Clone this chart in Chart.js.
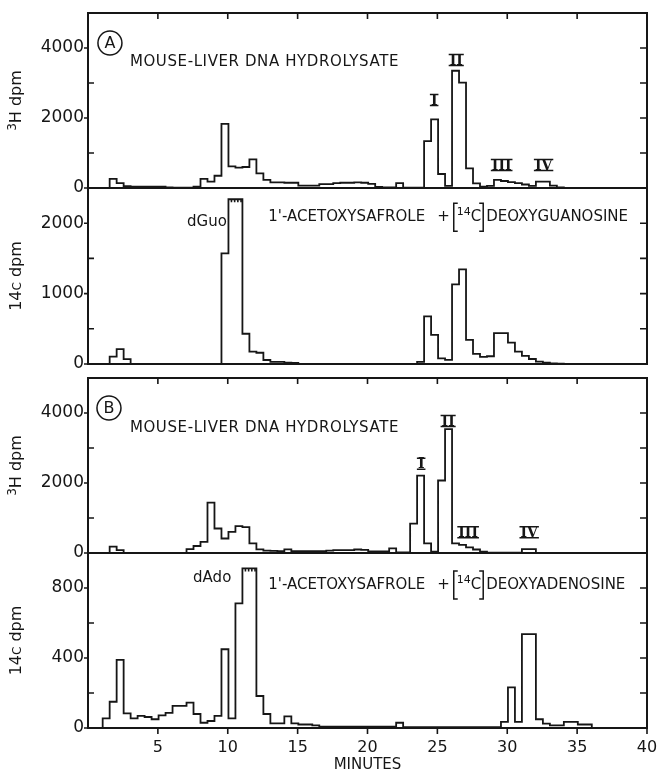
<!DOCTYPE html>
<html lang="en">
<head>
<meta charset="UTF-8">
<title>Mouse-liver DNA hydrolysate</title>
<script src="https://cdn.jsdelivr.net/npm/chart.js@4.4.0/dist/chart.umd.min.js"></script>
<style>
    body { margin: 0; background: #fff; }
    #wrap { position: relative; width: 659px; height: 774px; }
    #wrap canvas { position: absolute; left: 0; }
</style>
</head>
<body>
<div id="wrap">
    <canvas id="p1" width="659" height="195" style="top:3px"></canvas>
    <canvas id="p2" width="659" height="196" style="top:178px"></canvas>
    <canvas id="p3" width="659" height="195" style="top:368px"></canvas>
    <canvas id="p4" width="659" height="231" style="top:543px"></canvas>
</div>
<script>
// fraction start times (minutes)
const minutes = [
    0.55, 1.05, 1.55, 2.05, 2.55, 3.05, 3.55, 4.05, 4.55, 5.05,
    5.55, 6.05, 6.55, 7.05, 7.55, 8.05, 8.55, 9.05, 9.55, 10.05,
    10.55, 11.05, 11.55, 12.05, 12.55, 13.05, 13.55, 14.05, 14.55, 15.05,
    15.55, 16.05, 16.55, 17.05, 17.55, 18.05, 18.55, 19.05, 19.55, 20.05,
    20.55, 21.05, 21.55, 22.05, 22.55, 23.05, 23.55, 24.05, 24.55, 25.05,
    25.55, 26.05, 26.55, 27.05, 27.55, 28.05, 28.55, 29.05, 29.55, 30.05,
    30.55, 31.05, 31.55, 32.05, 32.55, 33.05, 33.55, 34.05, 34.55, 35.05,
    35.55, 36.05, 36.55, 37.05
];
// (A) 3H dpm, mouse-liver DNA hydrolysate
const h3A = [
    0, 0, 260, 140, 50, 40, 40, 40, 40, 40,
    20, 10, 10, 10, 40, 260, 180, 350, 1830, 620,
    580, 600, 820, 420, 230, 160, 160, 150, 150, 70,
    70, 70, 110, 110, 140, 150, 150, 160, 150, 120,
    30, 20, 20, 140, 10, 10, 10, 1340, 1960, 400,
    60, 3350, 3010, 560, 130, 40, 60, 230, 200, 170,
    140, 100, 60, 180, 180, 70, 20, 0, 0, 0,
    0, 0, 0, 0
];
// (A) 14C dpm, 1'-acetoxysafrole + [14C]deoxyguanosine
const c14A = [
    0, 0, 105, 210, 70, 0, 0, 0, 0, 0,
    0, 0, 0, 0, 0, 0, 0, 0, 1570, 2340,
    2340, 430, 176, 160, 57, 30, 30, 20, 15, 0,
    0, 0, 0, 0, 0, 0, 0, 0, 0, 0,
    0, 0, 0, 0, 0, 0, 30, 676, 414, 81,
    60, 1130, 1343, 343, 143, 100, 110, 438, 438, 305,
    176, 114, 71, 33, 20, 10, 5, 0, 0, 0,
    0, 0, 0, 0
];
// (B) 3H dpm, mouse-liver DNA hydrolysate
const h3B = [
    0, 0, 180, 85, 0, 0, 0, 0, 0, 0,
    0, 0, 0, 113, 200, 320, 1440, 700, 415, 605,
    766, 740, 275, 105, 66, 60, 50, 105, 50, 50,
    50, 50, 50, 70, 80, 80, 80, 100, 90, 45,
    45, 45, 133, 20, 20, 842, 2213, 275, 40, 2071,
    3537, 275, 230, 160, 100, 40, 10, 10, 10, 10,
    10, 113, 113, 0, 0, 0, 0, 0, 0, 0,
    0, 0, 0, 0
];
// (B) 14C dpm, 1'-acetoxysafrole + [14C]deoxyadenosine
const c14B = [
    0, 55, 150, 389, 84, 55, 69, 63, 50, 72,
    86, 127, 127, 145, 80, 30, 40, 69, 450, 55,
    712, 912, 912, 183, 80, 27, 27, 67, 27, 20,
    20, 15, 8, 8, 8, 8, 8, 8, 8, 8,
    8, 8, 8, 30, 5, 5, 5, 5, 5, 5,
    5, 5, 5, 5, 5, 5, 5, 5, 35, 232,
    35, 537, 537, 50, 25, 15, 15, 35, 35, 20,
    20, 0, 0, 0
];
const xLabels = [5, 10, 15, 20, 25, 30, 35, 40];
const yLabelsH3 = [0, 2000, 4000];
const yLabelsC14A = [0, 1000, 2000];
const yLabelsC14B = [0, 400, 800];

const ink = '#161616';
const fam = '"DejaVu Sans", sans-serif';

function drawBracket(ctx, bx, y, dir) {
    ctx.beginPath();
    ctx.moveTo(bx + 4 * dir, y - 14);
    ctx.lineTo(bx, y - 14);
    ctx.lineTo(bx, y + 14);
    ctx.lineTo(bx + 4 * dir, y + 14);
    ctx.stroke();
}

function drawItem(ctx, it, px, py) {
    ctx.textBaseline = 'middle';
    ctx.textAlign = 'left';
    if (it.kind === 'circle') {
        ctx.beginPath();
        ctx.arc(px, py, 12, 0, Math.PI * 2);
        ctx.stroke();
        ctx.font = '16px ' + fam;
        ctx.textAlign = 'center';
        ctx.fillText(it.t, px, py + 1);
    } else if (it.kind === 'roman') {
        ctx.font = 'bold 14px "DejaVu Serif", serif';
        ctx.textAlign = 'center';
        const w = ctx.measureText(it.t).width;
        ctx.fillText(it.t, px, py + 1);
        ctx.beginPath();
        ctx.moveTo(px - w / 2 - 1, py - 5.5); ctx.lineTo(px + w / 2 + 1, py - 5.5);
        ctx.moveTo(px - w / 2 - 1, py + 5.5); ctx.lineTo(px + w / 2 + 1, py + 5.5);
        ctx.stroke();
    } else if (it.kind === 'acet') {
        let cx = px;
        ctx.font = '15px ' + fam;
        ctx.fillText("1'-ACETOXYSAFROLE", cx, py);
        cx += ctx.measureText("1'-ACETOXYSAFROLE").width + 12;
        ctx.fillText('+', cx, py);
        cx += ctx.measureText('+').width + 4;
        drawBracket(ctx, cx, py, 1);
        cx += 3;
        ctx.font = '11px ' + fam;
        ctx.fillText('14', cx, py - 5);
        cx += ctx.measureText('14').width;
        ctx.font = '15px ' + fam;
        ctx.fillText('C', cx, py);
        cx += ctx.measureText('C').width + 2;
        drawBracket(ctx, cx, py, -1);
        cx += 3;
        ctx.fillText(it.t, cx, py);
    } else {
        ctx.font = '15px ' + fam;
        ctx.letterSpacing = (it.spacing || 0) + 'px';
        ctx.fillText(it.t, px, py);
        ctx.letterSpacing = '0px';
    }
}

const frame = {
    id: 'frame',
    afterDraw(chart, args, o) {
        const { ctx, chartArea: a, scales: { x, y } } = chart;
        ctx.save();
        ctx.strokeStyle = ink;
        ctx.fillStyle = ink;
        ctx.lineWidth = 1.6;
        ctx.beginPath();
        y.ticks.forEach(t => {
            const py = y.getPixelForValue(t.value);
            if (o.labels.includes(t.value)) {
                ctx.moveTo(a.left - 4, py); ctx.lineTo(a.left, py);
            } else if (t.value !== y.max) {
                ctx.moveTo(a.left, py); ctx.lineTo(a.left + 6, py);
            }
            if (t.value !== 0 && t.value !== y.max) {
                ctx.moveTo(a.right, py); ctx.lineTo(a.right - 7, py);
            }
        });
        xLabels.forEach(m => {
            const px = x.getPixelForValue(m);
            if (o.top && m < 40) { ctx.moveTo(px, a.top); ctx.lineTo(px, a.top + 6); }
            if (o.bottom) { ctx.moveTo(px, a.bottom); ctx.lineTo(px, a.bottom + 6); }
        });
        // off-scale notches along a flat-topped peak
        if (o.offscale) {
            const x0 = x.getPixelForValue(o.offscale.from);
            const x1 = x.getPixelForValue(o.offscale.to);
            const py = y.getPixelForValue(o.offscale.y);
            for (let px = x0 + 3; px < x1 - 1; px += 3.2) {
                ctx.moveTo(px, py); ctx.lineTo(px, py + 3);
            }
        }
        ctx.stroke();
        ctx.lineWidth = 2;
        ctx.strokeRect(a.left, a.top, a.right - a.left, a.bottom - a.top);

        // rotated y title
        ctx.save();
        ctx.translate(21, (a.top + a.bottom) / 2);
        ctx.rotate(-Math.PI / 2);
        ctx.textBaseline = 'alphabetic';
        let total = 0;
        o.title.forEach(p => { ctx.font = p.size + 'px ' + fam; total += ctx.measureText(p.t).width; });
        let cx = -total / 2;
        o.title.forEach(p => {
            ctx.font = p.size + 'px ' + fam;
            ctx.fillText(p.t, cx, p.dy || 0);
            cx += ctx.measureText(p.t).width;
        });
        ctx.restore();

        ctx.lineWidth = 1.5;
        (o.texts || []).forEach(it => drawItem(ctx, it, x.getPixelForValue(it.x), y.getPixelForValue(it.y)));
        ctx.restore();
    }
};

function panel(id, values, yMax, yStep, yLabels, o) {
    const last = !!o.bottom;
    return new Chart(document.getElementById(id), {
        type: 'line',
        data: {
            datasets: [{
                data: minutes.map((m, i) => ({ x: m, y: values[i] })),
                stepped: true,
                borderColor: ink,
                borderWidth: 1.8,
                pointRadius: 0,
                fill: false,
                clip: 3
            }]
        },
        options: {
            responsive: false,
            animation: false,
            events: [],
            layout: { padding: { top: 10, right: 12, bottom: last ? 0 : 10, left: 0 } },
            plugins: { legend: { display: false }, tooltip: { enabled: false }, frame: o },
            scales: {
                x: {
                    type: 'linear', min: 0, max: 40,
                    ticks: {
                        display: last, stepSize: 5, autoSkip: false, maxRotation: 0, padding: 10,
                        color: ink, font: { family: fam, size: 16 },
                        callback: v => xLabels.includes(v) ? v : ''
                    },
                    grid: { display: false, drawTicks: false },
                    border: { display: false },
                    title: { display: last, text: 'MINUTES', color: ink, font: { family: fam, size: 15 }, padding: 0 },
                    afterFit: s => { s.height = last ? 46 : 0; s.paddingLeft = 0; s.paddingRight = 0; }
                },
                y: {
                    min: 0, max: yMax,
                    ticks: {
                        stepSize: yStep, autoSkip: false, padding: 4,
                        color: ink, font: { family: fam, size: 17 },
                        callback: v => yLabels.includes(v) ? v : ''
                    },
                    grid: { display: false, drawTicks: false },
                    border: { display: false },
                    afterFit: s => { s.width = 88; s.paddingTop = 0; s.paddingBottom = 0; }
                }
            }
        },
        plugins: [frame]
    });
}

const titleH3 = [{ t: '3', size: 12, dy: -5 }, { t: 'H dpm', size: 16 }];
const titleC14 = [{ t: '14', size: 16 }, { t: 'C', size: 12 }, { t: ' dpm', size: 16 }];

panel('p1', h3A, 5000, 1000, yLabelsH3, {
    top: true, labels: yLabelsH3, title: titleH3,
    texts: [
        { kind: 'circle', t: 'A', x: 1.57, y: 4143 },
        { kind: 'text', t: 'MOUSE-LIVER DNA HYDROLYSATE', x: 3.0, y: 3600, spacing: 0.6 },
        { kind: 'roman', t: 'I', x: 24.77, y: 2514 },
        { kind: 'roman', t: 'II', x: 26.35, y: 3657 },
        { kind: 'roman', t: 'III', x: 29.6, y: 657 },
        { kind: 'roman', t: 'IV', x: 32.6, y: 657 }
    ]
});
panel('p2', c14A, 2500, 500, yLabelsC14A, {
    labels: yLabelsC14A, title: titleC14,
    offscale: { from: 10.05, to: 11.05, y: 2340 },
    texts: [
        { kind: 'text', t: 'dGuo', x: 7.09, y: 2015 },
        { kind: 'acet', t: 'DEOXYGUANOSINE', x: 12.9, y: 2086 }
    ]
});
panel('p3', h3B, 5000, 1000, yLabelsH3, {
    top: true, labels: yLabelsH3, title: titleH3,
    texts: [
        { kind: 'circle', t: 'B', x: 1.5, y: 4142 },
        { kind: 'text', t: 'MOUSE-LIVER DNA HYDROLYSATE', x: 3.0, y: 3575, spacing: 0.6 },
        { kind: 'roman', t: 'I', x: 23.84, y: 2553 },
        { kind: 'roman', t: 'II', x: 25.77, y: 3773 },
        { kind: 'roman', t: 'III', x: 27.2, y: 596 },
        { kind: 'roman', t: 'IV', x: 31.57, y: 596 }
    ]
});
panel('p4', c14B, 1000, 200, yLabelsC14B, {
    bottom: true, labels: yLabelsC14B, title: titleC14,
    offscale: { from: 11.05, to: 12.05, y: 912 },
    texts: [
        { kind: 'text', t: 'dAdo', x: 7.52, y: 857 },
        { kind: 'acet', t: 'DEOXYADENOSINE', x: 12.9, y: 817 }
    ]
});
</script>
</body>
</html>
